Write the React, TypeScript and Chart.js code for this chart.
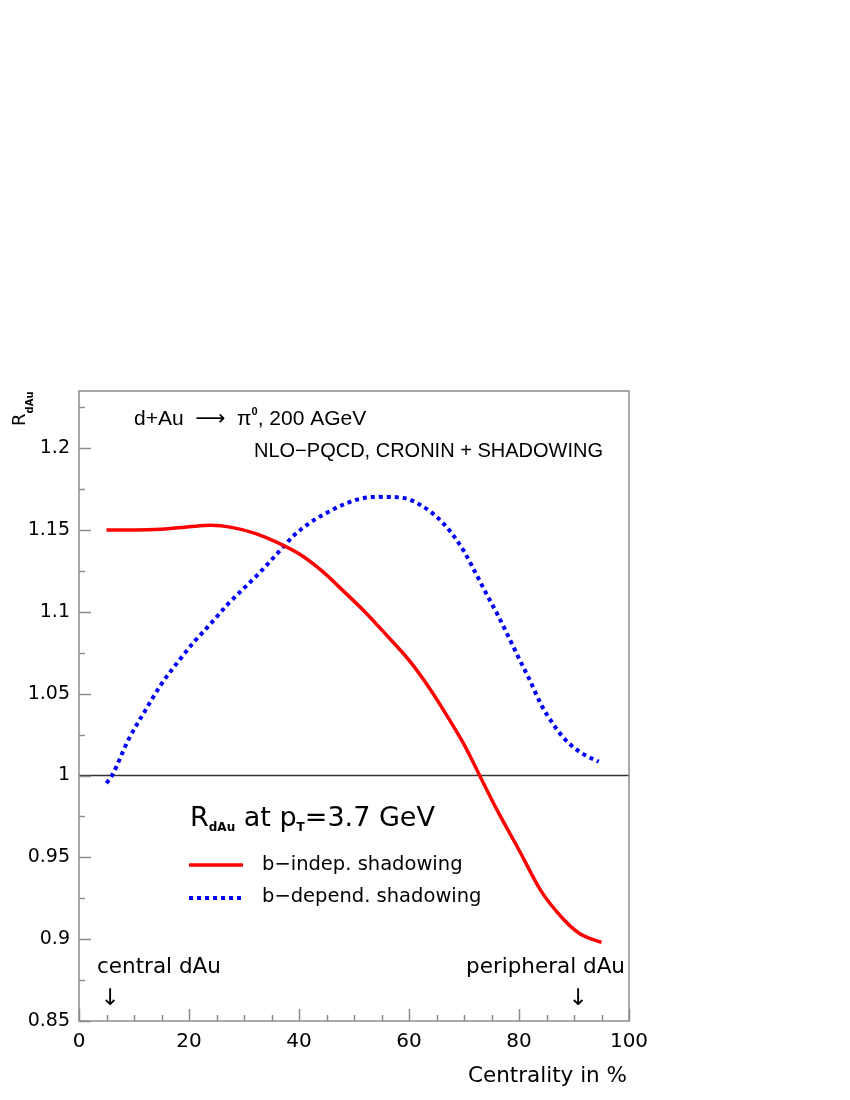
import React, { useEffect, useRef } from "react";
import { Chart, registerables } from "chart.js";

Chart.register(...registerables);

// ---- data ----
const indepX = [5, 10, 15, 20, 24, 28, 32, 36, 40, 44, 48, 52, 56, 60, 64, 67, 70, 73, 76, 80, 84, 88, 91, 95];
const indepY = [1.15, 1.15, 1.1505, 1.152, 1.153, 1.1515, 1.148, 1.1425, 1.1355, 1.1255, 1.113, 1.1, 1.0855, 1.0705, 1.052, 1.036, 1.019, 0.999, 0.979, 0.9545, 0.9295, 0.9125, 0.9035, 0.898];

const depX = [5, 6, 9, 12, 15, 18, 21, 24, 27, 30, 33, 36, 39, 42, 45, 48, 51, 54, 57, 60, 62, 64, 66, 68, 70, 72, 74, 76, 78, 80, 82, 84, 86, 88, 90, 92, 94.5];
const depY = [0.9953, 1.0, 1.022, 1.0395, 1.056, 1.0695, 1.082, 1.093, 1.1045, 1.1145, 1.1245, 1.1355, 1.1465, 1.1545, 1.1605, 1.1655, 1.169, 1.1703, 1.1702, 1.1688, 1.1655, 1.161, 1.155, 1.147, 1.137, 1.1245, 1.1115, 1.099, 1.0855, 1.0715, 1.058, 1.0435, 1.0325, 1.0235, 1.017, 1.0125, 1.0085];

const xMajorTicks = [0, 20, 40, 60, 80, 100];
const xMinorTicks = [5, 10, 15, 25, 30, 35, 45, 50, 55, 65, 70, 75, 85, 90, 95];
const yMajorTicks = [0.85, 0.9, 0.95, 1, 1.05, 1.1, 1.15, 1.2];
const yMinorTicks = [0.875, 0.925, 0.975, 1.025, 1.075, 1.125, 1.175, 1.225];
const yTickLabels = ["0.85", "0.9", "0.95", "1", "1.05", "1.1", "1.15", "1.2"];
const xTickLabels = ["0", "20", "40", "60", "80", "100"];

const xRange = [0, 100];
const yRange = [0.85, 1.235];

const seriesLabels = ["b\u2212indep. shadowing", "b\u2212depend. shadowing"];
const xTitle = "Centrality in %";

const RED = "#ff0000";
const BLUE = "#0000ff";
const AXIS = "#8c8c8c";
const GEO = "'DejaVu Sans', sans-serif";
const HELV = "'Liberation Sans', Arial, sans-serif";

type Seg = { t: string; f: string; dy?: number };

function rich(ctx: CanvasRenderingContext2D, x: number, y: number, segs: Seg[], align: "left" | "right" = "left") {
  let w = 0;
  for (const s of segs) {
    ctx.font = s.f;
    w += ctx.measureText(s.t).width;
  }
  let cx = align === "right" ? x - w : x;
  ctx.textAlign = "left";
  ctx.textBaseline = "alphabetic";
  for (const s of segs) {
    ctx.font = s.f;
    ctx.fillText(s.t, cx, y + (s.dy || 0));
    cx += ctx.measureText(s.t).width;
  }
}

const overlay = {
  id: "overlay",
  beforeDatasetsDraw(chart: any) {
    const { ctx, chartArea: a, scales } = chart;
    const y1 = scales.y.getPixelForValue(1);
    ctx.save();
    ctx.strokeStyle = "#333333";
    ctx.lineWidth = 1.5;
    ctx.beginPath();
    ctx.moveTo(a.left, y1);
    ctx.lineTo(a.right, y1);
    ctx.stroke();
    ctx.restore();
  },
  afterDraw(chart: any) {
    const { ctx, chartArea: a, scales } = chart;
    const xs = scales.x;
    const ys = scales.y;
    ctx.save();
    // frame
    ctx.strokeStyle = AXIS;
    ctx.lineWidth = 1.5;
    ctx.strokeRect(a.left, a.top, a.right - a.left, a.bottom - a.top);
    // inward ticks
    ctx.beginPath();
    for (const v of yMajorTicks) {
      const p = Math.round(ys.getPixelForValue(v)) + 0.5;
      ctx.moveTo(a.left, p);
      ctx.lineTo(a.left + 12, p);
    }
    for (const v of yMinorTicks) {
      const p = Math.round(ys.getPixelForValue(v)) + 0.5;
      ctx.moveTo(a.left, p);
      ctx.lineTo(a.left + 6, p);
    }
    for (const v of xMajorTicks) {
      const p = Math.round(xs.getPixelForValue(v)) + 0.5;
      ctx.moveTo(p, a.bottom);
      ctx.lineTo(p, a.bottom - 12);
    }
    for (const v of xMinorTicks) {
      const p = Math.round(xs.getPixelForValue(v)) + 0.5;
      ctx.moveTo(p, a.bottom);
      ctx.lineTo(p, a.bottom - 6);
    }
    ctx.stroke();

    ctx.fillStyle = "#000";
    // y-axis title R_dAu (rotated)
    ctx.save();
    ctx.translate(25, 426);
    ctx.rotate(-Math.PI / 2);
    rich(ctx, 0, 0, [
      { t: "R", f: `18px ${GEO}` },
      { t: "dAu", f: `bold 10px ${GEO}`, dy: 8 },
    ]);
    ctx.restore();

    // header
    rich(ctx, 134, 425, [
      { t: "d+Au  ", f: `21px ${HELV}` },
      { t: "\u27F6", f: `21px ${GEO}` },
      { t: "  \u03C0", f: `21px ${HELV}` },
      { t: "0", f: `bold 11px ${HELV}`, dy: -10 },
      { t: ", 200 AGeV", f: `21px ${HELV}` },
    ]);
    rich(ctx, 254, 457, [{ t: "NLO\u2212PQCD, CRONIN + SHADOWING", f: `20px ${HELV}` }]);

    // legend block
    rich(ctx, 190, 826, [
      { t: "R", f: `27px ${GEO}` },
      { t: "dAu", f: `bold 12px ${GEO}`, dy: 5 },
      { t: " at p", f: `27px ${GEO}` },
      { t: "T", f: `bold 12px ${GEO}`, dy: 5 },
      { t: "=3.7 GeV", f: `27px ${GEO}` },
    ]);
    ctx.lineWidth = 3.5;
    ctx.strokeStyle = RED;
    ctx.beginPath();
    ctx.moveTo(189, 865);
    ctx.lineTo(243, 865);
    ctx.stroke();
    ctx.strokeStyle = BLUE;
    ctx.lineWidth = 4;
    ctx.setLineDash([4, 4]);
    ctx.beginPath();
    ctx.moveTo(189, 898);
    ctx.lineTo(243, 898);
    ctx.stroke();
    ctx.setLineDash([]);
    rich(ctx, 262, 870, [{ t: seriesLabels[0], f: `19.5px ${GEO}` }]);
    rich(ctx, 262, 902, [{ t: seriesLabels[1], f: `19.5px ${GEO}` }]);

    // centrality annotations
    rich(ctx, 97, 973, [{ t: "central dAu", f: `21.5px ${GEO}` }]);
    rich(ctx, 625, 973, [{ t: "peripheral dAu", f: `21.5px ${GEO}` }], "right");
    ctx.font = `23px ${GEO}`;
    ctx.textAlign = "center";
    ctx.fillText("\u2193", 110, 1005);
    ctx.fillText("\u2193", 578, 1005);

    // x title
    rich(ctx, 627, 1082, [{ t: xTitle, f: `21.5px ${GEO}` }], "right");
    ctx.restore();
  },
};

export default function App() {
  const ref = useRef<HTMLCanvasElement | null>(null);
  useEffect(() => {
    if (!ref.current) return;
    const chart = new Chart(ref.current, {
      type: "line",
      data: {
        datasets: [
          {
            label: seriesLabels[0],
            data: indepX.map((x, i) => ({ x, y: indepY[i] })),
            borderColor: RED,
            borderWidth: 3.5,
            pointRadius: 0,
            cubicInterpolationMode: "monotone",
            fill: false,
          },
          {
            label: seriesLabels[1],
            data: depX.map((x, i) => ({ x, y: depY[i] })),
            borderColor: BLUE,
            borderWidth: 4,
            borderDash: [4, 4],
            pointRadius: 0,
            cubicInterpolationMode: "monotone",
            fill: false,
          },
        ],
      },
      options: {
        responsive: false,
        animation: false,
        devicePixelRatio: 1,
        layout: { padding: { left: 0, top: 391, right: 221, bottom: 39 } },
        plugins: { legend: { display: false }, tooltip: { enabled: false }, title: { display: false } },
        scales: {
          x: {
            type: "linear",
            min: xRange[0],
            max: xRange[1],
            grid: { display: false, drawTicks: false },
            border: { display: false },
            ticks: {
              color: "#000",
              font: { family: "DejaVu Sans", size: 20 },
              padding: 9,
              maxRotation: 0,
              callback: (v: any) => {
                const i = xMajorTicks.indexOf(Number(v));
                return i >= 0 ? xTickLabels[i] : "";
              },
            },
            afterBuildTicks: (s: any) => {
              s.ticks = xMajorTicks.map((v) => ({ value: v }));
            },
            afterFit: (s: any) => {
              s.height = 40;
            },
          },
          y: {
            type: "linear",
            min: yRange[0],
            max: yRange[1],
            grid: { display: false, drawTicks: false },
            border: { display: false },
            ticks: {
              color: "#000",
              font: { family: "DejaVu Sans", size: 19 },
              padding: 9,
              callback: (v: any) => {
                const i = yMajorTicks.findIndex((t) => Math.abs(t - Number(v)) < 1e-6);
                return i >= 0 ? yTickLabels[i] : "";
              },
            },
            afterBuildTicks: (s: any) => {
              s.ticks = yMajorTicks.map((v) => ({ value: v }));
            },
            afterFit: (s: any) => {
              s.width = 79;
            },
          },
        },
      },
      plugins: [overlay],
    } as any);
    return () => chart.destroy();
  }, []);
  return (
    <div style={{ position: "absolute", left: 0, top: 0, width: 850, height: 1100, background: "#fff" }}>
      <canvas ref={ref} width={850} height={1100} style={{ display: "block" }} />
    </div>
  );
}
